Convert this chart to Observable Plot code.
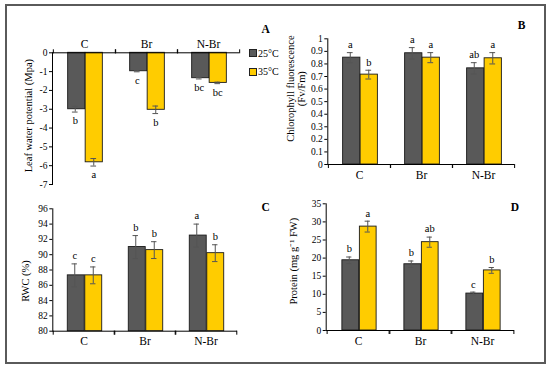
<!DOCTYPE html>
<html>
<head>
<meta charset="utf-8">
<script src="https://cdn.jsdelivr.net/npm/d3@7"></script>
<script src="https://cdn.jsdelivr.net/npm/@observablehq/plot@0.6"></script>
<style>
  html, body { margin: 0; padding: 0; background: #fff; }
  #fig { position: relative; width: 550px; height: 368px; background: #fff; overflow: hidden; font-family: "Liberation Serif", "Times New Roman", serif; }
  #border { position: absolute; left: 5px; top: 4px; width: 537px; height: 356px; border: 2px solid #5a5a5a; }
  .panel { position: absolute; }
  .panel text { font-family: "Liberation Serif", "Times New Roman", serif; }
  .plabel { position: absolute; font-weight: bold; font-size: 11.5px; transform: translate(-50%, -50%); line-height: 1; }
  .legend { position: absolute; left: 249px; top: 47px; font-size: 10px; }
  .legend .row { display: flex; align-items: center; height: 12px; margin-bottom: 6.5px; }
  .legend .sw { width: 6px; height: 6px; border: 1px solid #222; margin-right: 1px; }
</style>
</head>
<body>
<div id="fig"><div id="border"></div></div>
<script>
// ---- data ----
const categories = ["C", "Br", "N-Br"];
const temps = ["25°C", "35°C"];
const colors = ["#595959", "#FFCC00"];

// A: Leaf water potential (Mpa)
const lwp25 = [-3.0, -0.98, -1.35];
const lwp25Err = [0.15, 0.03, 0.04];
const lwp35 = [-5.82, -3.03, -1.6];
const lwp35Err = [0.2, 0.2, 0.04];
const lwp25Letters = ["b", "c", "bc"];
const lwp35Letters = ["a", "b", "bc"];
const lwpTicks = [0, -1, -2, -3, -4, -5, -6, -7];

// B: Chlorophyll fluorescence (Fv/Fm)
const fv25 = [0.85, 0.885, 0.765];
const fv25Err = [0.04, 0.045, 0.045];
const fv35 = [0.715, 0.85, 0.845];
const fv35Err = [0.035, 0.04, 0.045];
const fv25Letters = ["a", "a", "ab"];
const fv35Letters = ["b", "a", "a"];
const fvTicks = [0, 0.1, 0.2, 0.3, 0.4, 0.5, 0.6, 0.7, 0.8, 0.9, 1];

// C: RWC (%)
const rwc25 = [87.3, 91.0, 92.5];
const rwc25Err = [1.5, 1.5, 1.5];
const rwc35 = [87.3, 90.6, 90.2];
const rwc35Err = [1.1, 1.1, 1.1];
const rwc25Letters = ["c", "b", "a"];
const rwc35Letters = ["c", "b", "b"];
const rwcTicks = [80, 82, 84, 86, 88, 90, 92, 94, 96];

// D: Protein (mg g-1 FW)
const prot25 = [19.4, 18.3, 10.2];
const prot25Err = [0.9, 0.9, 0.4];
const prot35 = [28.7, 24.4, 16.6];
const prot35Err = [1.5, 1.4, 0.8];
const prot25Letters = ["b", "b", "c"];
const prot35Letters = ["a", "ab", "b"];
const protTicks = [0, 5, 10, 15, 20, 25, 30, 35];

const serif = "Liberation Serif";

function rowsOf(v25, e25, l25, v35, e35, l35) {
  const rows = [];
  categories.forEach((cat, i) => {
    rows.push({cat, temp: temps[0], value: v25[i], err: e25[i], letter: l25[i]});
    rows.push({cat, temp: temps[1], value: v35[i], err: e35[i], letter: l35[i]});
  });
  return rows;
}

function panel(o) {
  const {rows, ticks, width, height, mL, mR, mT, mB} = o;
  const bw = (width - mL - mR) / categories.length;
  const half = bw / 2;
  const barW = 17.5;
  const off = barW / 2 + 0.5;
  const capHalf = 3;
  const baseline = o.baseline;
  const below = o.below;
  const marks = [];
  temps.forEach((t, k) => {
    const r = rows.filter(d => d.temp === t);
    const sgn = k === 0 ? -1 : 1;
    const left = k === 0 ? half - barW + 1 : half + 1;
    const right = bw - left - barW;
    marks.push(Plot.barY(r, {x: "cat", y1: () => baseline, y2: "value", fill: colors[k], stroke: "#1a1a1a", strokeWidth: 0.9, insetLeft: left, insetRight: right}));
    marks.push(Plot.ruleX(r, {x: "cat", y1: d => d.value - d.err, y2: d => d.value + d.err, dx: sgn * off, stroke: "#555", strokeWidth: 1}));
    const cl = half + sgn * off - capHalf;
    const cr = bw - cl - 2 * capHalf;
    marks.push(Plot.tickY(r, {x: "cat", y: d => d.value + d.err, insetLeft: cl, insetRight: cr, stroke: "#555", strokeWidth: 1}));
    marks.push(Plot.tickY(r, {x: "cat", y: d => d.value - d.err, insetLeft: cl, insetRight: cr, stroke: "#555", strokeWidth: 1}));
    marks.push(Plot.text(r, {x: "cat", y: d => below ? d.value - d.err : d.value + d.err, text: "letter", dx: sgn * off, dy: below ? 9 : -8, lineAnchor: "middle", fontSize: 10.5, fontFamily: serif}));
  });
  const anchor = below ? "top" : "bottom";
  marks.push(Plot.ruleY([baseline], {stroke: "#000", strokeWidth: 1}));
  marks.push(Plot.frame({anchor: "left", stroke: "#000", strokeWidth: 1}));
  marks.push(Plot.axisX({anchor, tickSize: 4, tickFormat: () => "", dx: -half, label: null}));
  marks.push(Plot.axisX({anchor, tickSize: 4, tickFormat: () => "", dx: half, label: null}));
  marks.push(Plot.axisX({anchor, tickSize: 0, tickPadding: o.catPad, fontSize: 11.5, fontFamily: serif, label: null}));
  marks.push(Plot.axisY({ticks, tickSize: 3, tickPadding: 2, tickFormat: d => String(d), fontSize: 9.5, fontFamily: serif, label: null}));
  marks.push(Plot.text([o.label], {text: d => d, frameAnchor: "left", rotate: -90, dx: o.labelDx, dy: o.labelDy, fontSize: 10.5, fontFamily: serif, lineAnchor: "middle", textAnchor: "middle", lineHeight: 1.05}));
  const svg = Plot.plot({
    width, height,
    marginLeft: mL, marginRight: mR, marginTop: mT, marginBottom: mB,
    style: {fontFamily: "'Liberation Serif', 'Times New Roman', serif", fontSize: "9.5px", color: "#000", background: "transparent", overflow: "visible"},
    x: {domain: categories, paddingInner: 0, paddingOuter: 0, label: null},
    y: {domain: o.domain, label: null},
    marks
  });
  svg.classList.add("panel");
  svg.style.left = o.left + "px";
  svg.style.top = o.top + "px";
  svg.style.position = "absolute";
  return svg;
}

const fig = document.getElementById("fig");

fig.appendChild(panel({
  rows: rowsOf(lwp25, lwp25Err, lwp25Letters, lwp35, lwp35Err, lwp35Letters),
  ticks: lwpTicks, domain: [-7, 0], baseline: 0, below: true,
  left: 0, top: 0, width: 275, height: 192, mL: 52, mR: 36, mT: 52.3, mB: 8,
  catPad: 5, label: "Leaf water potential (Mpa)", labelDx: -24, labelDy: -3
}));

fig.appendChild(panel({
  rows: rowsOf(fv25, fv25Err, fv25Letters, fv35, fv35Err, fv35Letters),
  ticks: fvTicks, domain: [0, 1], baseline: 0, below: false,
  left: 275, top: 0, width: 275, height: 190, mL: 52.3, mR: 36, mT: 38.3, mB: 26,
  catPad: 6, label: "Chlorophyll fluorescence\n(Fv/Fm)", labelDx: -32, labelDy: -13
}));

fig.appendChild(panel({
  rows: rowsOf(rwc25, rwc25Err, rwc25Letters, rwc35, rwc35Err, rwc35Letters),
  ticks: rwcTicks, domain: [80, 96], baseline: 80, below: false,
  left: 0, top: 192, width: 275, height: 176, mL: 52.3, mR: 38, mT: 16.3, mB: 37.3,
  catPad: 6, label: "RWC (%)", labelDx: -27, labelDy: 11
}));

fig.appendChild(panel({
  rows: rowsOf(prot25, prot25Err, prot25Letters, prot35, prot35Err, prot35Letters),
  ticks: protTicks, domain: [0, 35], baseline: 0, below: false,
  left: 275, top: 192, width: 275, height: 176, mL: 50.7, mR: 36, mT: 11.3, mB: 38,
  catPad: 6, label: "Protein (mg g\u207B\u00B9 FW)", labelDx: -33, labelDy: -6
}));

// panel letters
[["A", 265.7, 29.5], ["B", 521.7, 25.5], ["C", 265.7, 207.5], ["D", 515, 208]].forEach(([t, x, y]) => {
  const d = document.createElement("div");
  d.className = "plabel";
  d.textContent = t;
  d.style.left = x + "px";
  d.style.top = y + "px";
  fig.appendChild(d);
});

// legend
const leg = document.createElement("div");
leg.className = "legend";
temps.forEach((t, k) => {
  const row = document.createElement("div");
  row.className = "row";
  const sw = document.createElement("div");
  sw.className = "sw";
  sw.style.background = colors[k];
  const tx = document.createElement("span");
  tx.textContent = t;
  row.appendChild(sw);
  row.appendChild(tx);
  leg.appendChild(row);
});
fig.appendChild(leg);
</script>
</body>
</html>
